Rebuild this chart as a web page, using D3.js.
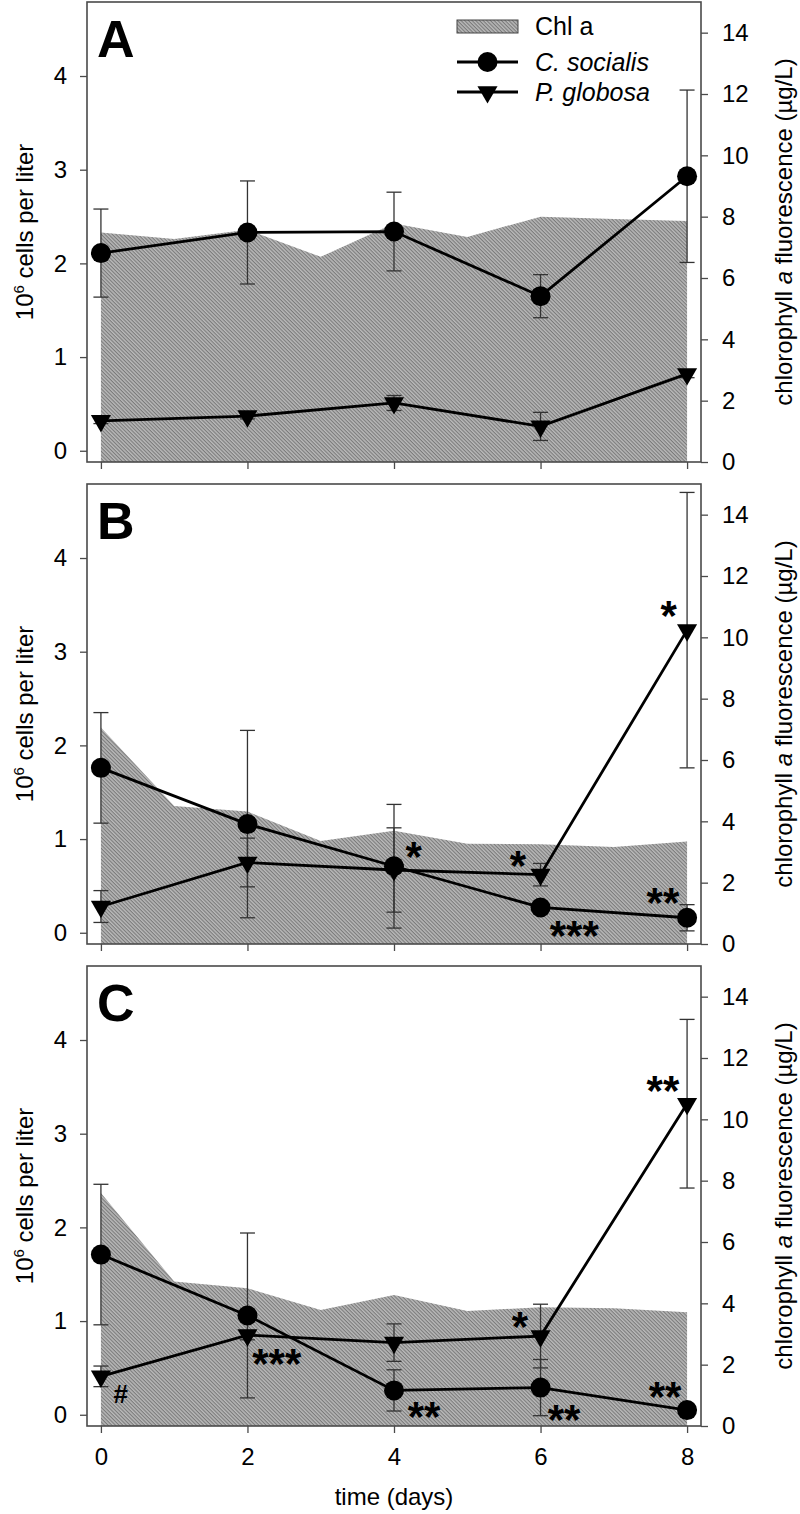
<!DOCTYPE html>
<html><head><meta charset="utf-8">
<script src="https://cdn.jsdelivr.net/npm/d3@7"></script>
<style>
body{margin:0;background:#fff}
svg{display:block}
text{font-family:"Liberation Sans",Arial,Helvetica,sans-serif;fill:#000}
</style>
</head><body>
<svg id="chart" width="800" height="1514"></svg>
<script>
// ---------- data ----------
const days = [0, 2, 4, 6, 8];
const chlDays = [0, 1, 2, 3, 4, 5, 6, 7, 8];
const panelLabels = ["A", "B", "C"];

// Chl a fluorescence (µg/L), right axis
const chlA = [7.48, 7.27, 7.57, 6.69, 7.78, 7.34, 8.00, 7.92, 7.86];
const chlB = [7.06, 4.50, 4.32, 3.36, 3.69, 3.27, 3.25, 3.16, 3.34];
const chlC = [7.60, 4.71, 4.49, 3.78, 4.27, 3.75, 3.87, 3.84, 3.71];

// C. socialis (10^6 cells per liter)
const csA = [2.11, 2.33, 2.34, 1.65, 2.93];
const csAerr = [0.47, 0.55, 0.42, 0.23, 0.92];
const csB = [1.76, 1.16, 0.71, 0.27, 0.16];
const csBerr = [0.59, 1.00, 0.66, 0.04, 0.14];
const csC = [1.71, 1.06, 0.26, 0.29, 0.05];
const csCerr = [0.75, 0.88, 0.22, 0.30, 0.03];

// P. globosa (10^6 cells per liter)
const pgA = [0.32, 0.37, 0.51, 0.26, 0.82];
const pgAerr = [0.03, 0.03, 0.08, 0.15, 0.04];
const pgB = [0.28, 0.75, 0.67, 0.62, 3.23];
const pgBerr = [0.17, 0.26, 0.45, 0.12, 1.47];
const pgC = [0.41, 0.85, 0.77, 0.84, 3.32];
const pgCerr = [0.11, 0.05, 0.20, 0.34, 0.90];

// significance marks (day, value on left axis = glyph centre)
const annA = [];
const annB = [
  {day: 4.27, v: 0.91, t: "*"},
  {day: 5.69, v: 0.81, t: "*"},
  {day: 6.46, v: 0.06, t: "***"},
  {day: 7.67, v: 0.41, t: "**"},
  {day: 7.75, v: 3.48, t: "*"}
];
const annC = [
  {day: 0.27, v: 0.23, t: "#"},
  {day: 2.40, v: 0.64, t: "***"},
  {day: 4.41, v: 0.07, t: "**"},
  {day: 5.72, v: 1.03, t: "*"},
  {day: 6.32, v: 0.04, t: "**"},
  {day: 7.70, v: 0.29, t: "**"},
  {day: 7.67, v: 3.55, t: "**"}
];

const leftTicks = [0, 1, 2, 3, 4];
const rightTicks = [0, 2, 4, 6, 8, 10, 12, 14];
const xTicks = [0, 2, 4, 6, 8];
const legendNames = ["Chl a", "C. socialis", "P. globosa"];
const yLabelLeft = "cells per liter";
const xLabel = "time (days)";

const panelData = [
  {label: panelLabels[0], chl: chlA, cs: csA, csErr: csAerr, pg: pgA, pgErr: pgAerr, ann: annA},
  {label: panelLabels[1], chl: chlB, cs: csB, csErr: csBerr, pg: pgB, pgErr: pgBerr, ann: annB},
  {label: panelLabels[2], chl: chlC, cs: csC, csErr: csCerr, pg: pgC, pgErr: pgCerr, ann: annC}
];

// ---------- layout ----------
const svg = d3.select("#chart");
const L = 87, R = 701, H = 460;
const tops = [2, 484, 966];
const frameColor = "#4a4a4a";

// hatch pattern
const defs = svg.append("defs");
const pat = defs.append("pattern").attr("id", "hatch")
  .attr("patternUnits", "userSpaceOnUse").attr("width", 2.6).attr("height", 2.6)
  .attr("patternTransform", "rotate(45)");
pat.append("rect").attr("width", 2.6).attr("height", 2.6).attr("fill", "#b9b9b9");
pat.append("rect").attr("width", 2.6).attr("height", 1.1).attr("fill", "#7a7a7a");

const x = d3.scaleLinear().domain([-0.19, 8.19]).range([L, R]);
const triangle = d3.symbol().type(d3.symbolTriangle).size(175);

panelData.forEach((p, i) => {
  const top = tops[i], bot = top + H;
  const yL = d3.scaleLinear().domain([-0.12, 4.79]).range([bot, top]);
  const yR = d3.scaleLinear().domain([0, 15]).range([bot, top]);
  const g = svg.append("g");

  // Chl a area
  g.append("path")
    .datum(chlDays.map((d, k) => [d, p.chl[k]]))
    .attr("fill", "url(#hatch)")
    .attr("d", d3.area().x(d => x(d[0])).y0(yR(0)).y1(d => yR(d[1])));

  // error bars
  const errs = [];
  days.forEach((d, k) => {
    errs.push({d, v: p.cs[k], e: p.csErr[k]});
    errs.push({d, v: p.pg[k], e: p.pgErr[k]});
  });
  const eg = g.append("g").attr("stroke", "#333").attr("stroke-width", 1.3).attr("fill", "none");
  errs.forEach(o => {
    const xx = x(o.d), y1 = yL(o.v + o.e), y2 = yL(o.v - o.e);
    eg.append("line").attr("x1", xx).attr("x2", xx).attr("y1", y1).attr("y2", y2);
    eg.append("line").attr("x1", xx - 7.5).attr("x2", xx + 7.5).attr("y1", y1).attr("y2", y1);
    eg.append("line").attr("x1", xx - 7.5).attr("x2", xx + 7.5).attr("y1", y2).attr("y2", y2);
  });

  // lines
  const line = d3.line().x(d => x(d[0])).y(d => yL(d[1]));
  g.append("path").datum(days.map((d, k) => [d, p.cs[k]]))
    .attr("fill", "none").attr("stroke", "#000").attr("stroke-width", 2.8).attr("d", line);
  g.append("path").datum(days.map((d, k) => [d, p.pg[k]]))
    .attr("fill", "none").attr("stroke", "#000").attr("stroke-width", 2.8).attr("d", line);

  // markers
  g.selectAll(".cs").data(days.map((d, k) => [d, p.cs[k]])).join("circle")
    .attr("cx", d => x(d[0])).attr("cy", d => yL(d[1])).attr("r", 10).attr("fill", "#000");
  g.selectAll(".pg").data(days.map((d, k) => [d, p.pg[k]])).join("path")
    .attr("d", triangle)
    .attr("transform", d => `translate(${x(d[0])},${yL(d[1])}) rotate(180)`)
    .attr("fill", "#000");

  // annotations
  p.ann.forEach(a => {
    const isHash = a.t === "#";
    const fs = isHash ? 26 : 42;
    g.append("text")
      .attr("x", x(a.day))
      .attr("y", yL(a.v) + (isHash ? 0.36 : 0.55) * fs)
      .attr("text-anchor", "middle")
      .attr("font-weight", "bold")
      .attr("font-size", fs)
      .text(a.t);
  });

  // frame
  g.append("rect").attr("x", L).attr("y", top).attr("width", R - L).attr("height", H)
    .attr("fill", "none").attr("stroke", frameColor).attr("stroke-width", 1.6);

  // axes
  const axL = g.append("g").attr("transform", `translate(${L},0)`)
    .call(d3.axisLeft(yL).tickValues(leftTicks).tickSize(7).tickSizeOuter(0).tickPadding(13).tickFormat(d3.format("d")));
  const axR = g.append("g").attr("transform", `translate(${R},0)`)
    .call(d3.axisRight(yR).tickValues(rightTicks).tickSize(7).tickSizeOuter(0).tickPadding(14).tickFormat(d3.format("d")));
  const axB = g.append("g").attr("transform", `translate(0,${bot})`)
    .call(d3.axisBottom(x).tickValues(xTicks).tickSize(7).tickSizeOuter(0).tickPadding(15)
      .tickFormat(i === 2 ? d3.format("d") : () => ""));
  [axL, axR, axB].forEach(ax => {
    ax.select(".domain").remove();
    ax.selectAll(".tick line").attr("stroke", frameColor).attr("stroke-width", 1.3);
    ax.selectAll(".tick text").attr("font-size", 24).attr("font-family", null).attr("fill", "#000");
  });

  // panel letter
  g.append("text").attr("x", 97).attr("y", top + 55)
    .attr("font-size", 52).attr("font-weight", "bold").text(p.label);

  // left y label
  const mid = top + H / 2;
  const tl = g.append("text")
    .attr("transform", `translate(33,${mid}) rotate(-90)`)
    .attr("text-anchor", "middle").attr("font-size", 24);
  tl.append("tspan").text("10");
  tl.append("tspan").attr("dy", -9).attr("font-size", 15).text("6");
  tl.append("tspan").attr("dy", 9).text(" " + yLabelLeft);

  // right y label
  const tr = g.append("text")
    .attr("transform", `translate(792,${mid}) rotate(-90)`)
    .attr("text-anchor", "middle").attr("font-size", 24);
  tr.append("tspan").text("chlorophyll ");
  tr.append("tspan").attr("font-style", "italic").text("a");
  tr.append("tspan").text(" fluorescence (µg/L)");

  // legend in panel A
  if (i === 0) {
    const lg = g.append("g");
    const lx1 = 457, lx2 = 518, tx = 535;
    const ly = [top + 24, top + 60, top + 90];
    lg.append("rect").attr("x", lx1).attr("y", ly[0] - 6).attr("width", lx2 - lx1).attr("height", 13)
      .attr("fill", "url(#hatch)").attr("stroke", "#444").attr("stroke-width", 1);
    lg.append("text").attr("x", tx).attr("y", ly[0] + 9).attr("font-size", 25).text(legendNames[0]);
    [1, 2].forEach(k => {
      lg.append("line").attr("x1", lx1).attr("x2", lx2).attr("y1", ly[k]).attr("y2", ly[k])
        .attr("stroke", "#000").attr("stroke-width", 2.8);
      if (k === 1) {
        lg.append("circle").attr("cx", (lx1 + lx2) / 2).attr("cy", ly[k]).attr("r", 10).attr("fill", "#000");
      } else {
        lg.append("path").attr("d", triangle)
          .attr("transform", `translate(${(lx1 + lx2) / 2},${ly[k]}) rotate(180)`).attr("fill", "#000");
      }
      lg.append("text").attr("x", tx).attr("y", ly[k] + 9).attr("font-size", 25)
        .attr("font-style", "italic").text(legendNames[k]);
    });
  }

  // x label
  if (i === 2) {
    g.append("text").attr("x", (L + R) / 2).attr("y", 1505).attr("text-anchor", "middle")
      .attr("font-size", 24).text(xLabel);
  }
});
</script>
</body></html>
